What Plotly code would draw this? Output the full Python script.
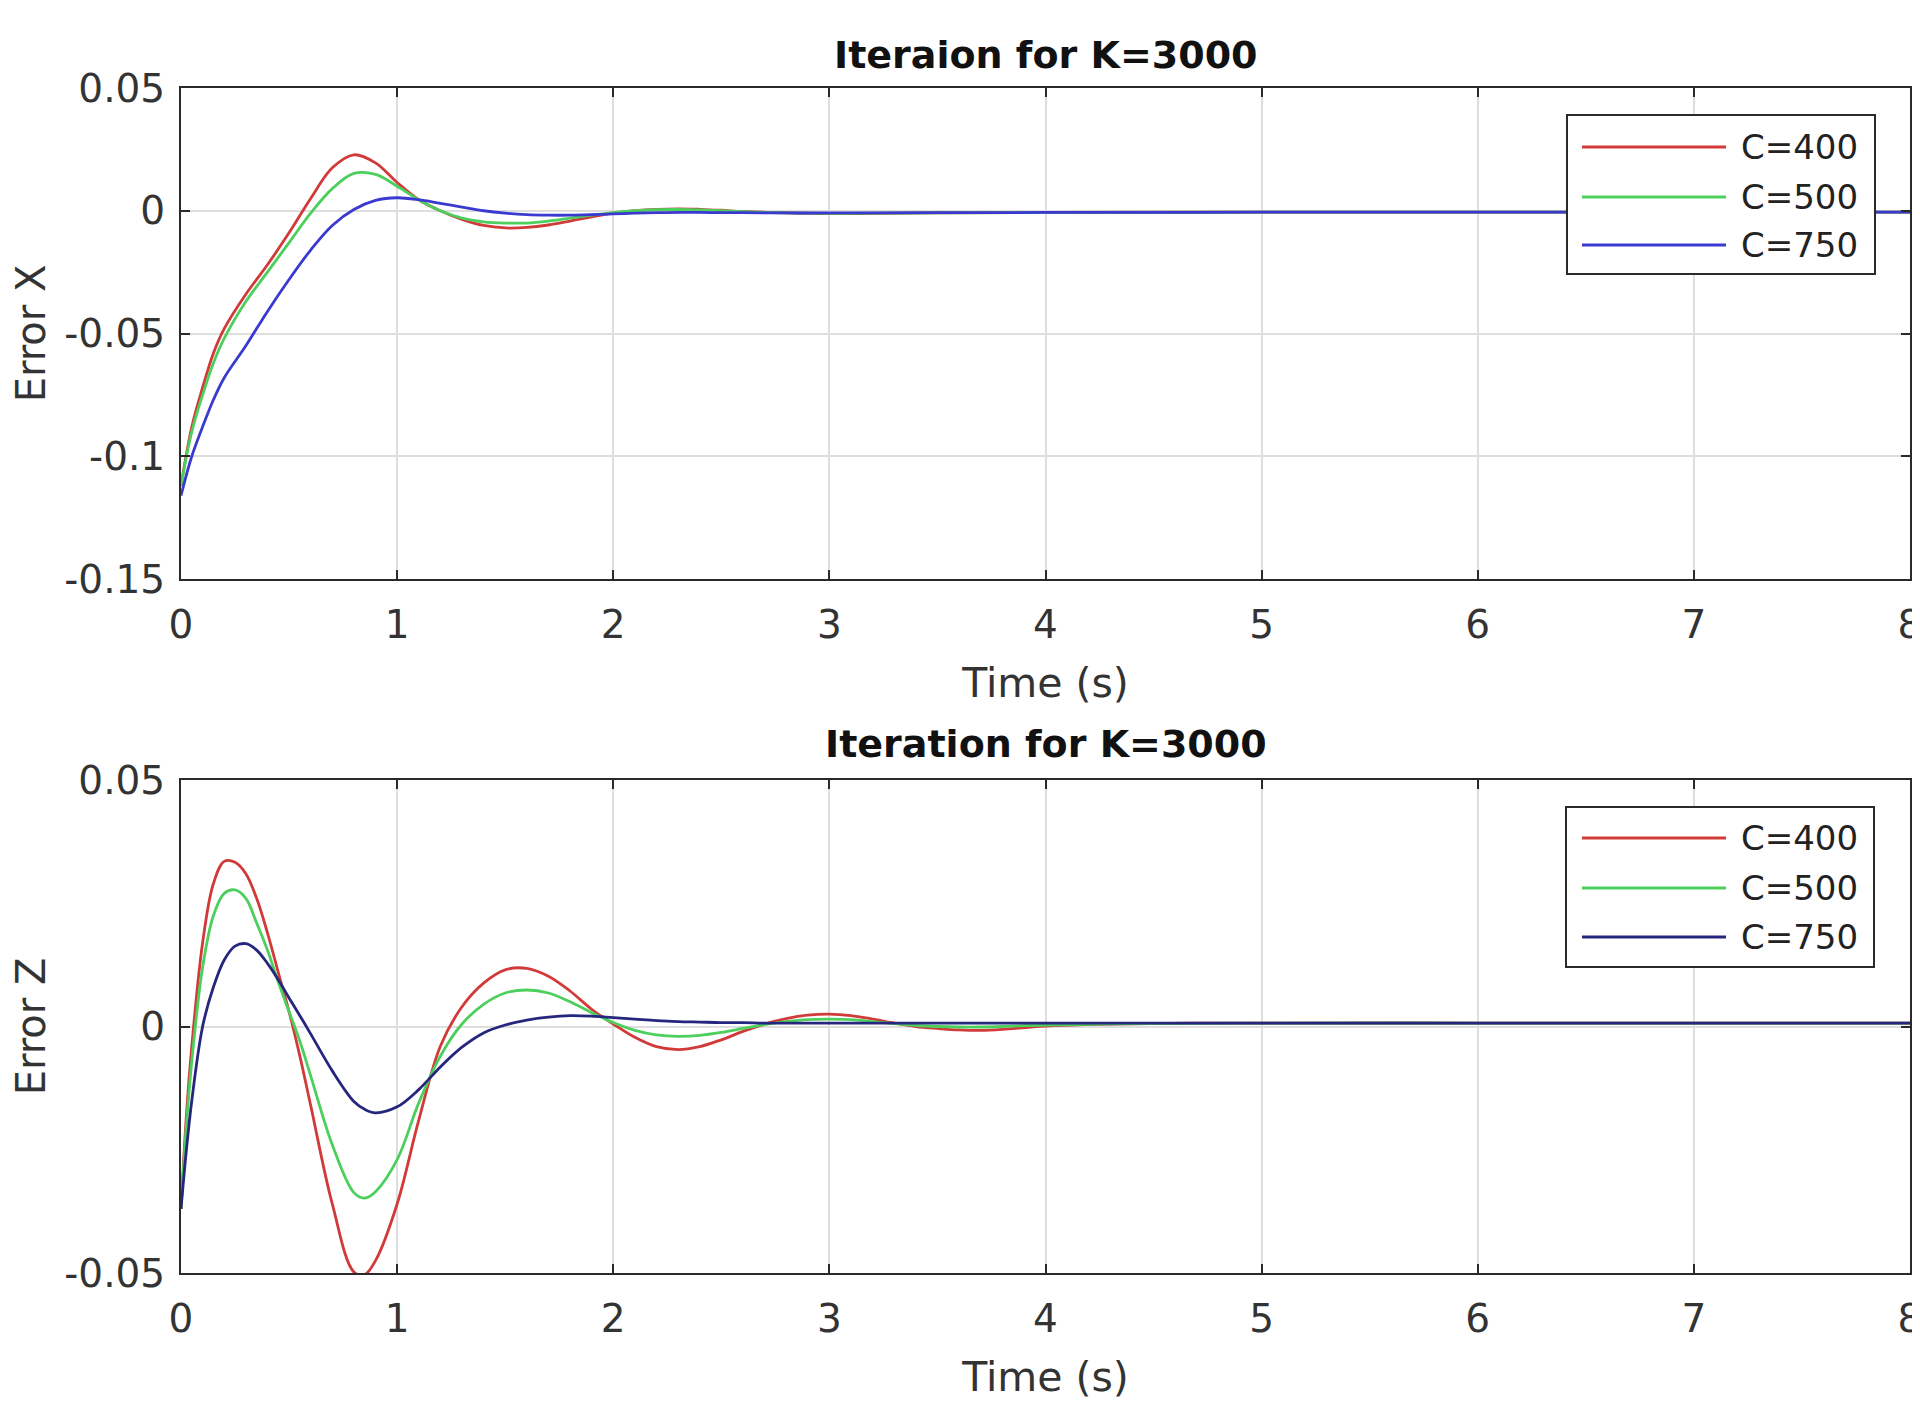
import plotly.graph_objects as go

# ---------------- data ----------------
series_names = ["C=400", "C=500", "C=750"]

t_x = [0, 0.05, 0.1, 0.15, 0.2, 0.3, 0.4, 0.5, 0.6, 0.7, 0.8, 0.9, 1.0, 1.1, 1.2,
       1.3, 1.4, 1.5, 1.6, 1.7, 1.8, 1.9, 2.0, 2.1, 2.2, 2.3, 2.4, 2.5, 2.6, 2.8,
       3.0, 3.2, 3.5, 4.0, 5.0, 6.0, 7.0, 8.0]
ex_c400 = [-0.112, -0.088, -0.072, -0.058, -0.048, -0.034, -0.022, -0.009, 0.005, 0.0175,
           0.0228, 0.0195, 0.0115, 0.0045, 0.0, -0.0035, -0.006, -0.007, -0.0068, -0.0058,
           -0.0042, -0.0025, -0.001, 0.0, 0.0006, 0.0008, 0.0006, 0.0002, -0.0003, -0.0009,
           -0.0012, -0.0011, -0.0009, -0.0007, -0.0006, -0.0006, -0.0006, -0.0006]
ex_c500 = [-0.112, -0.09, -0.075, -0.062, -0.052, -0.037, -0.025, -0.013, -0.001, 0.009,
           0.0152, 0.0148, 0.010, 0.0045, 0.0, -0.003, -0.0045, -0.005, -0.005, -0.0042,
           -0.003, -0.0018, -0.0008, 0.0, 0.0004, 0.0005, 0.0003, 0.0, -0.0004, -0.0009,
           -0.0011, -0.001, -0.0009, -0.0007, -0.0006, -0.0006, -0.0006, -0.0006]
ex_c750 = [-0.116, -0.1, -0.088, -0.077, -0.068, -0.055, -0.041, -0.028, -0.016, -0.006,
           0.0005, 0.0042, 0.0053, 0.0045, 0.003, 0.0015, 0.0, -0.001, -0.0016, -0.0018,
           -0.0018, -0.0016, -0.0013, -0.001, -0.0008, -0.0007, -0.0007, -0.0008, -0.0008, -0.0009,
           -0.0009, -0.0009, -0.0008, -0.0007, -0.0006, -0.0006, -0.0006, -0.0006]

t_z = [0, 0.025, 0.05, 0.1, 0.15, 0.2, 0.25, 0.3, 0.35, 0.4,
       0.45, 0.5, 0.55, 0.6, 0.7, 0.8, 0.85, 0.9, 1.0, 1.1,
       1.2, 1.3, 1.4, 1.5, 1.6, 1.7, 1.8, 1.9, 2.0, 2.1,
       2.2, 2.3, 2.4, 2.5, 2.6, 2.7, 2.8, 2.9, 3.0, 3.1,
       3.2, 3.3, 3.4, 3.5, 3.6, 3.7, 3.8, 4.0, 4.5, 5.0,
       6.0, 7.0, 8.0]
ez_c400 = [-0.037, -0.018, -0.004, 0.017, 0.029, 0.0335, 0.0333, 0.031, 0.026, 0.019,
           0.011, 0.003, -0.006, -0.016, -0.036, -0.0498, -0.0503, -0.0475, -0.036, -0.019,
           -0.004, 0.004, 0.0088, 0.0115, 0.0118, 0.0102, 0.0072, 0.0035, 0.0005, -0.0022,
           -0.0041, -0.0047, -0.0041, -0.0027, -0.001, 0.0005, 0.0016, 0.0023, 0.0025, 0.0022,
           0.0015, 0.0007, 0.0, -0.0004, -0.0007, -0.0008, -0.0006, 0.0001, 0.0006, 0.0007,
           0.0007, 0.0007, 0.0007]
ez_c500 = [-0.037, -0.02, -0.007, 0.012, 0.0225, 0.027, 0.0277, 0.026, 0.021, 0.0155,
           0.009, 0.003, -0.003, -0.010, -0.024, -0.0337, -0.0348, -0.0335, -0.027, -0.0155,
           -0.006, 0.0005, 0.0045, 0.0068, 0.0074, 0.0068, 0.005, 0.0028, 0.0008, -0.0008,
           -0.0017, -0.002, -0.0018, -0.0012, -0.0004, 0.0004, 0.001, 0.0014, 0.0015, 0.0014,
           0.001, 0.0006, 0.0002, 0.0, -0.0001, -0.0001, 0.0, 0.0003, 0.0006, 0.0007,
           0.0007, 0.0007, 0.0007]
ez_c750 = [-0.037, -0.025, -0.015, 0.0, 0.008, 0.0135, 0.0163, 0.0168, 0.0155, 0.0128,
           0.0095, 0.0058, 0.0022, -0.0015, -0.009, -0.0152, -0.0168, -0.0175, -0.0163, -0.0128,
           -0.0082, -0.0042, -0.0013, 0.0003, 0.0013, 0.0019, 0.0022, 0.0021, 0.0018, 0.0015,
           0.0012, 0.001, 0.0009, 0.0008, 0.0008, 0.0007, 0.0007, 0.0007, 0.0007, 0.0007,
           0.0007, 0.0007, 0.0007, 0.0007, 0.0007, 0.0007, 0.0007, 0.0007, 0.0007, 0.0007,
           0.0007, 0.0007, 0.0007]

x_ticks = [0, 1, 2, 3, 4, 5, 6, 7, 8]
x_ticktext = ["0", "1", "2", "3", "4", "5", "6", "7", "8"]
yx_ticks = [-0.15, -0.1, -0.05, 0, 0.05]
yx_ticktext = ["-0.15", "-0.1", "-0.05", "0", "0.05"]
yz_ticks = [-0.05, 0, 0.05]
yz_ticktext = ["-0.05", "0", "0.05"]

title_top = "Iteraion for K=3000"
title_bottom = "Iteration for K=3000"

# ---------------- styling / layout ----------------
BODY = 8                      # default page margin around the figure div
W, H = 1920 - BODY, 1407 - BODY
ML, MR, MT, MB = 181 - BODY, 10, 0, 0
FONT = "DejaVu Sans, Liberation Sans, Arial, sans-serif"
colors_top = ["#d23a3a", "#4ccf5c", "#3a3ad0"]
colors_bot = ["#d23a3a", "#4ccf5c", "#26267e"]


def px(x):
    """page pixel x -> paper coordinate"""
    return (x - BODY - ML) / (W - ML - MR)


def py(y):
    """page pixel y -> paper coordinate"""
    return 1 - (y - BODY - MT) / (H - MT - MB)


fig = go.Figure()

for name, ys, col in zip(series_names, [ex_c400, ex_c500, ex_c750], colors_top):
    fig.add_trace(go.Scatter(x=t_x, y=ys, mode="lines", name=name, showlegend=False,
                             line=dict(color=col, width=2.8, shape="spline"),
                             xaxis="x", yaxis="y"))
for name, ys, col in zip(series_names, [ez_c400, ez_c500, ez_c750], colors_bot):
    fig.add_trace(go.Scatter(x=t_z, y=ys, mode="lines", name=name, showlegend=False,
                             line=dict(color=col, width=2.8, shape="spline"),
                             xaxis="x2", yaxis="y2"))

axis_common = dict(
    automargin=False,
    showline=True, linecolor="#2a2a2a", linewidth=2, mirror="ticks",
    ticks="inside", ticklen=9, tickwidth=2, tickcolor="#2a2a2a",
    showgrid=True, gridcolor="#dedede", gridwidth=1.5, zeroline=False,
    ticklabeloverflow="allow",
    tickfont=dict(family=FONT, size=39, color="#333333"),
)

xa = dict(axis_common, range=[0, 8], tickmode="array", tickvals=x_ticks, ticktext=x_ticktext,
          ticklabelstandoff=10,
          title=dict(text="Time (s)", font=dict(family=FONT, size=41, color="#333333"), standoff=23))

fig.update_layout(
    width=W, height=H,
    margin=dict(l=ML, r=MR, t=MT, b=MB, autoexpand=False),
    paper_bgcolor="white", plot_bgcolor="white",
    font=dict(family=FONT, color="#333333"),
    showlegend=False,
    xaxis=dict(xa, domain=[0, 1], anchor="y"),
    xaxis2=dict(xa, domain=[0, 1], anchor="y2"),
    yaxis=dict(axis_common, domain=[py(579), py(88)], anchor="x", range=[-0.15, 0.05],
               tickmode="array", tickvals=yx_ticks, ticktext=yx_ticktext, ticklabelstandoff=6,
               title=dict(text="Error X", font=dict(family=FONT, size=40, color="#333333"), standoff=18)),
    yaxis2=dict(axis_common, domain=[py(1273), py(780)], anchor="x2", range=[-0.05, 0.05],
                tickmode="array", tickvals=yz_ticks, ticktext=yz_ticktext, ticklabelstandoff=6,
                title=dict(text="Error Z", font=dict(family=FONT, size=40, color="#333333"), standoff=18)),
)

# titles
for txt, yc in [(title_top, 55), (title_bottom, 744)]:
    fig.add_annotation(text="<b>" + txt + "</b>", x=px(1046), y=py(yc), xref="paper", yref="paper",
                       xanchor="center", yanchor="middle", showarrow=False,
                       font=dict(family=FONT, size=38, color="#111111"))

# legends (boxed, MATLAB style)
legend_specs = [
    dict(box=(1567, 115, 1875, 274), rows=[147, 197, 245], colors=colors_top),
    dict(box=(1566, 807, 1874, 967), rows=[838, 888, 937], colors=colors_bot),
]
for spec in legend_specs:
    x0, y0, x1, y1 = spec["box"]
    fig.add_shape(type="rect", xref="paper", yref="paper", x0=px(x0), x1=px(x1), y0=py(y0), y1=py(y1),
                  line=dict(color="#2a2a2a", width=2), fillcolor="white", layer="above")
    for name, ry, col in zip(series_names, spec["rows"], spec["colors"]):
        fig.add_shape(type="line", xref="paper", yref="paper", x0=px(1582), x1=px(1726), y0=py(ry), y1=py(ry),
                      line=dict(color=col, width=2.8), layer="above")
        fig.add_annotation(text=name, x=px(1739), y=py(ry), xref="paper", yref="paper",
                           xanchor="left", yanchor="middle", showarrow=False,
                           font=dict(family=FONT, size=34, color="#222222"))

fig.write_html("out.html")
